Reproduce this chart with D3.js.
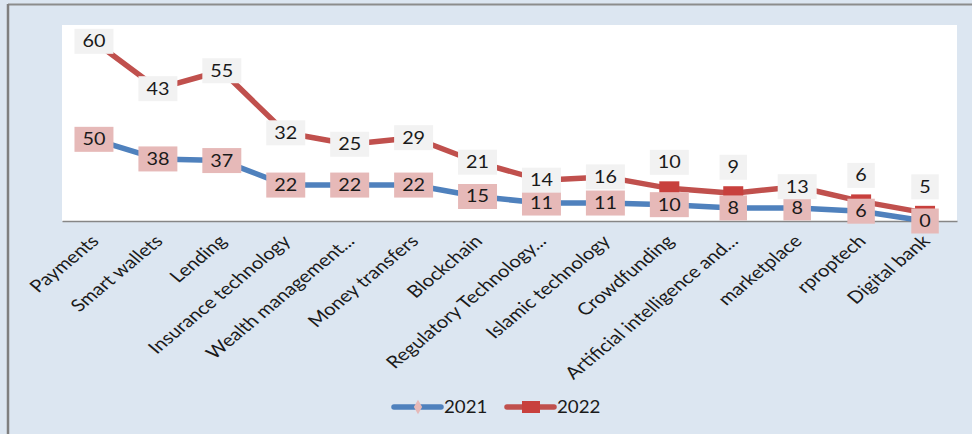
<!DOCTYPE html>
<html>
<head>
<meta charset="utf-8">
<script src="https://cdn.jsdelivr.net/npm/d3@7"></script>
<style>
  body { margin: 0; background: #fff; }
  svg { display: block; font-family: Lato, "Open Sans", sans-serif; }
</style>
</head>
<body>
<div id="chart"></div>
<script>
// categories and values
const categories = ["Payments", "Smart wallets", "Lending", "Insurance technology", "Wealth management...",
  "Money transfers", "Blockchain", "Regulatory Technology...", "Islamic technology", "Crowdfunding",
  "Artificial intelligence and...", "marketplace", "rproptech", "Digital bank"];
const values2021 = [50, 38, 37, 22, 22, 22, 15, 11, 11, 10, 8, 8, 6, 0];
const values2022 = [60, 43, 55, 32, 25, 29, 21, 14, 16, 10, 9, 13, 6, 5];
const seriesNames = ["2021", "2022"];

const width = 972, height = 434;
const plot = {left: 62, right: 957, top: 25, bottom: 221};
const stretch = 1.2; // the picture is a bit wider than tall

const svg = d3.select("#chart").append("svg")
  .attr("width", width)
  .attr("height", height);

// frame
svg.append("rect").attr("x", 0).attr("y", 0).attr("width", width).attr("height", height).attr("fill", "#dce6f1");
svg.append("line").attr("x1", 8).attr("x2", width).attr("y1", 4.5).attr("y2", 4.5)
  .attr("stroke", "#8c8c8c").attr("stroke-width", 2);
svg.append("line").attr("x1", 8).attr("x2", 8).attr("y1", 4).attr("y2", height)
  .attr("stroke", "#7f7f7f").attr("stroke-width", 2.5);

svg.append("rect")
  .attr("x", plot.left).attr("y", plot.top)
  .attr("width", plot.right - plot.left).attr("height", plot.bottom - plot.top)
  .attr("fill", "white");

const x = d3.scaleBand().domain(categories).range([plot.left, plot.right]);
const y = d3.scaleLinear().domain([0, 120]).range([plot.bottom, plot.top]);

// stacked lines (2022 sits on top of 2021)
const rows = categories.map((c, i) => ({cat: c, "2021": values2021[i], "2022": values2022[i]}));
const stacked = d3.stack().keys(seriesNames)(rows);

const cx = d => x(d.data.cat) + x.bandwidth() / 2;
const line = d3.line().x(cx).y(d => y(d[1]));

// category axis
const xAxis = svg.append("g")
  .attr("transform", `translate(0,${plot.bottom})`)
  .call(d3.axisBottom(x).tickSize(0).tickFormat(""));
xAxis.select(".domain").attr("stroke", "#868686").attr("stroke-width", 1.5);

svg.append("g").selectAll("text")
  .data(categories)
  .join("text")
  .attr("transform", d => `translate(${x(d) + x.bandwidth() / 2 + 1},${plot.bottom + 17}) scale(${stretch},1) rotate(-45)`)
  .attr("text-anchor", "end")
  .attr("dy", "0.35em")
  .style("font-size", "17px")
  .attr("fill", "#1a1a1a")
  .text(d => d);

const colors = {"2021": "#4f81bd", "2022": "#c0504d"};

stacked.forEach(s => {
  svg.append("path")
    .datum(s)
    .attr("fill", "none")
    .attr("stroke", colors[s.key])
    .attr("stroke-width", 5.5)
    .attr("stroke-linejoin", "round")
    .attr("d", line);
});

// markers
svg.append("g").selectAll("path")
  .data(stacked[0])
  .join("path")
  .attr("transform", d => `translate(${cx(d)},${y(d[1])})`)
  .attr("d", d3.symbol(d3.symbolDiamond, 60))
  .attr("fill", "#e6b9b8");
svg.append("g").selectAll("rect")
  .data(stacked[1])
  .join("rect")
  .attr("x", d => cx(d) - 10).attr("y", d => y(d[1]) - 7)
  .attr("width", 20).attr("height", 14)
  .attr("fill", "#c8403d");

// data labels
const boxH = 25;
function drawLabels(data, fill, placeY) {
  const g = svg.append("g").selectAll("g")
    .data(data)
    .join("g")
    .attr("transform", (d, i) => `translate(${cx(d)},${placeY(d, i)})`);
  g.append("text")
    .attr("text-anchor", "middle")
    .attr("dy", "0.36em")
    .attr("transform", `scale(${stretch},1)`)
    .style("font-size", "16.5px")
    .attr("fill", "#1a1a1a")
    .text(d => d[1] - d[0]);
  g.each(function() {
    const t = d3.select(this).select("text");
    const w = t.node().getComputedTextLength() * stretch + 16;
    d3.select(this).insert("rect", "text")
      .attr("x", -w / 2).attr("y", -boxH / 2)
      .attr("width", w).attr("height", boxH)
      .attr("fill", fill);
  });
}

drawLabels(stacked[0], "#e6b9b8", d => y(d[1]));
drawLabels(stacked[1], "#f2f2f2", (d, i) => {
  const p = y(d[1]);
  const below = y(stacked[0][i][1]);
  return (below - p < 20) ? p - 26 : p;
});

// legend
const legend = svg.append("g").attr("transform", "translate(0,407)");
legend.append("line").attr("x1", 394).attr("x2", 441).attr("y1", 0).attr("y2", 0)
  .attr("stroke", colors["2021"]).attr("stroke-width", 5.5).attr("stroke-linecap", "round");
legend.append("path").attr("transform", "translate(418,0)")
  .attr("d", d3.symbol(d3.symbolDiamond, 60)).attr("fill", "#e6b9b8");
legend.append("text").attr("x", 444).attr("dy", "0.36em")
  .style("font-size", "17px").attr("transform", `translate(${444 * (1 - 1.1)},0) scale(1.1,1)`)
  .attr("fill", "#1a1a1a").text(seriesNames[0]);
legend.append("line").attr("x1", 507).attr("x2", 554).attr("y1", 0).attr("y2", 0)
  .attr("stroke", colors["2022"]).attr("stroke-width", 5.5).attr("stroke-linecap", "round");
legend.append("rect").attr("x", 522).attr("y", -6).attr("width", 18).attr("height", 12)
  .attr("fill", "#c8403d");
legend.append("text").attr("x", 557).attr("dy", "0.36em")
  .style("font-size", "17px").attr("transform", `translate(${557 * (1 - 1.1)},0) scale(1.1,1)`)
  .attr("fill", "#1a1a1a").text(seriesNames[1]);
</script>
</body>
</html>
